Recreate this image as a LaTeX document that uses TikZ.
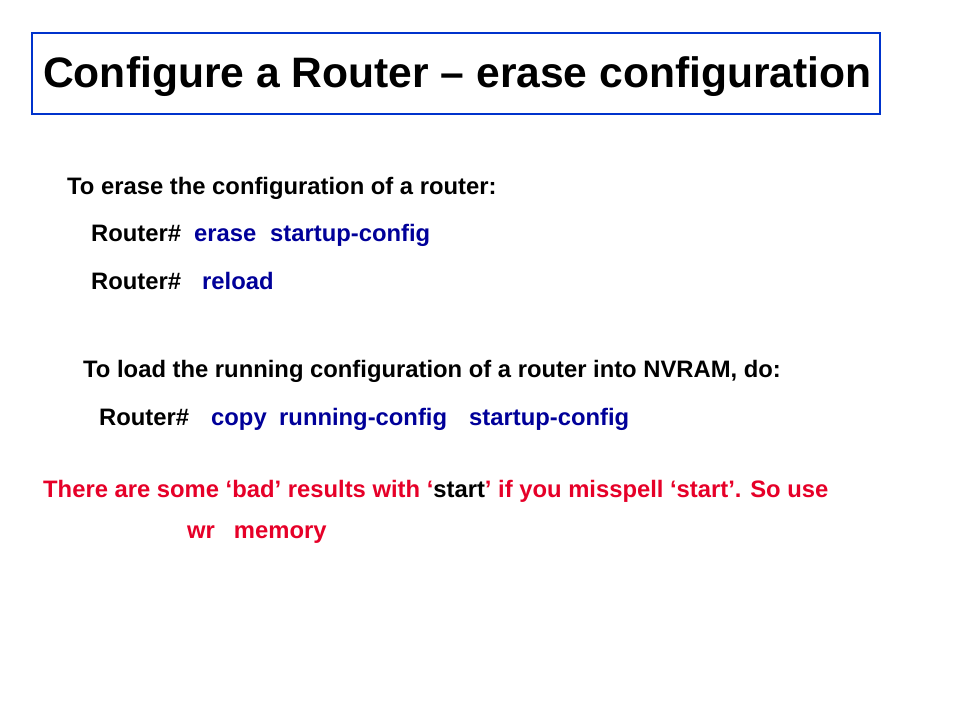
\documentclass[tikz,border=0pt]{standalone}
\usepackage{fontspec}
\setmainfont{Liberation Sans}
\definecolor{boxblue}{RGB}{0,51,204}
\definecolor{cmdblue}{RGB}{0,0,153}
\definecolor{warnred}{RGB}{230,0,40}
\tikzset{txt/.style={anchor=base west, inner sep=0pt, font=\fontsize{23.8}{28}\selectfont\bfseries},
         cmd/.style={txt, text=cmdblue}}
\begin{document}
\begin{tikzpicture}[x=1pt,y=-1pt]
                \useasboundingbox (0,0) rectangle (960,720);
                \draw[boxblue, line width=2pt] (32,33) rectangle (880,114);
                \node[txt, font=\fontsize{42.6}{48}\selectfont\bfseries] (title) at (43,87) {Configure a Router -- erase configuration};
                \node[txt] (erase) at (67,194) {To erase the configuration of a router:};
                \node[txt] (r1) at (91,241) {Router\#};
                \node[cmd] (c1a) at (194,241) {erase};
                \node[cmd] (c1b) at (270,241) {startup-config};
                \node[txt] (r2) at (91,289) {Router\#};
                \node[cmd] (c2) at (202,289) {reload};
                \node[txt] (load) at (83,377) {To load the running configuration of a router into NVRAM, do:};
                \node[txt] (r3) at (99,425) {Router\#};
                \node[cmd] (c3a) at (211,425) {copy};
                \node[cmd] (c3b) at (279,425) {running-config};
                \node[cmd] (c3c) at (469,425) {startup-config};
                \node[txt, text=warnred] (warn) at (43,497) {There are some ‘bad’ results with ‘\textcolor{black}{start}’ if you misspell ‘start’. So use};
                \node[txt, text=warnred] (wr) at (187,538) {wr\hspace{19pt}memory};
            \end{tikzpicture}
\end{document}
